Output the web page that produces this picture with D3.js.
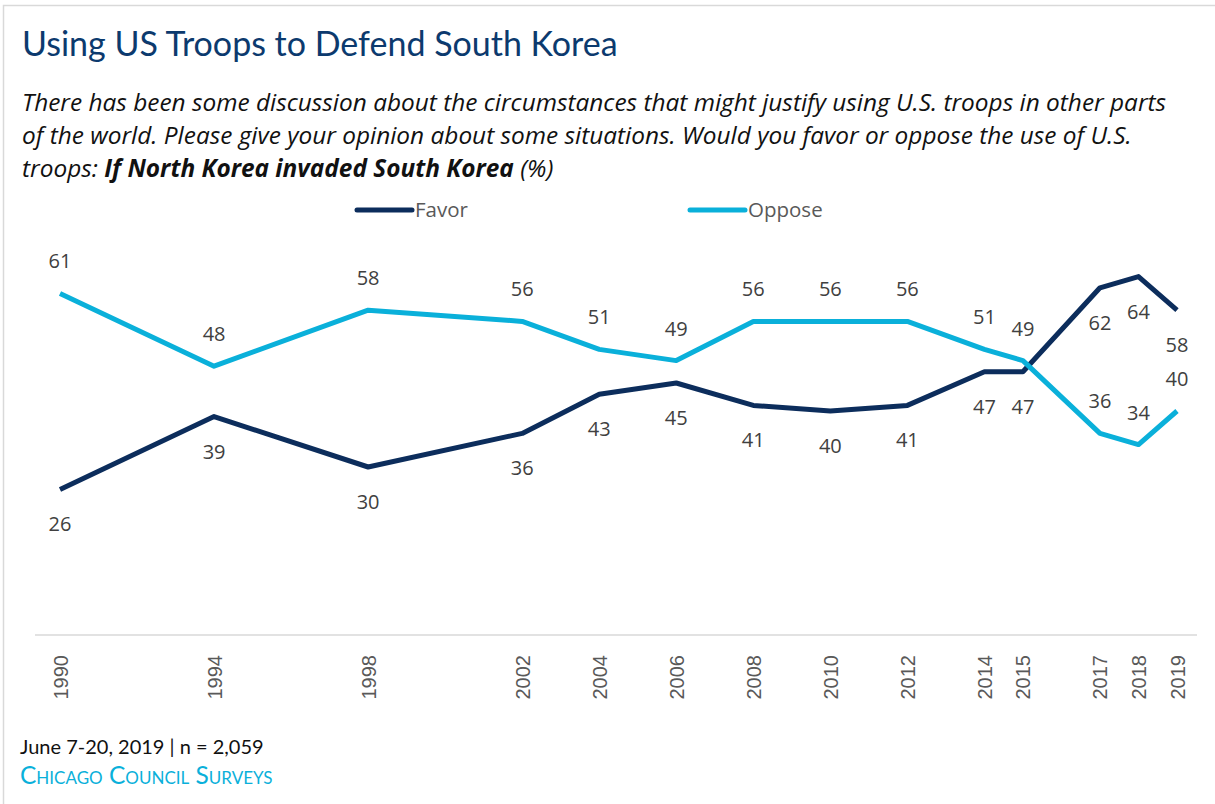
<!DOCTYPE html>
<html>
<head>
<meta charset="utf-8">
<script src="https://cdn.jsdelivr.net/npm/d3@7"></script>
<style>
  body { margin: 0; background: #fff; }
  svg { display: block; }
</style>
</head>
<body>
<svg id="chart" width="1215" height="804"></svg>
<script>
// -----
// DATA
// -----
const years = [1990, 1994, 1998, 2002, 2004, 2006, 2008, 2010, 2012, 2014, 2015, 2017, 2018, 2019];
const favor = [26, 39, 30, 36, 43, 45, 41, 40, 41, 47, 47, 62, 64, 58];
const oppose = [61, 48, 58, 56, 51, 49, 56, 56, 56, 51, 49, 36, 34, 40];

const seriesNames = ["Favor", "Oppose"];
const colors = { Favor: "#0c2d5c", Oppose: "#0ab0da" };

const svg = d3.select("#chart");

// frame
svg.append("path")
    .attr("d", "M3.5,804 V5.5 H1215")
    .attr("fill", "none")
    .attr("stroke", "#d9d9d9")
    .attr("stroke-width", 1.5);

// title + question
svg.append("text")
    .attr("x", 22).attr("y", 56)
    .attr("font-family", "Lato, sans-serif")
    .attr("font-size", 34)
    .attr("fill", "#0c3a6e")
    .text("Using US Troops to Defend South Korea");

const sub = svg.append("text")
    .attr("font-family", "'Open Sans', sans-serif")
    .attr("font-size", 24.4)
    .attr("font-style", "italic")
    .attr("fill", "#111");
sub.append("tspan").attr("x", 22).attr("y", 111)
    .text("There has been some discussion about the circumstances that might justify using U.S. troops in other parts");
sub.append("tspan").attr("x", 22).attr("y", 144)
    .text("of the world. Please give your opinion about some situations. Would you favor or oppose the use of U.S.");
sub.append("tspan").attr("x", 22).attr("y", 177).text("troops: ");
sub.append("tspan").attr("font-weight", "bold").text("If North Korea invaded South Korea");
sub.append("tspan").text(" (%)");

// -----
// SCALES
// -----
const x = d3.scaleLinear().domain([1990, 2019]).range([60, 1177]);
const y = d3.scaleLinear().domain([0, 70]).range([635, 243]);

// axis
svg.append("line")
    .attr("x1", 35).attr("x2", 1197)
    .attr("y1", y(0)).attr("y2", y(0))
    .attr("stroke", "#d9d9d9")
    .attr("stroke-width", 1.5);

const xAxis = svg.append("g")
    .attr("transform", `translate(0,${y(0)})`)
    .call(d3.axisBottom(x).tickValues(years).tickFormat(d3.format("d")).tickSize(0));
xAxis.select(".domain").remove();
xAxis.selectAll("text")
    .attr("font-family", "'Liberation Sans', Arial, sans-serif")
    .attr("font-size", 20)
    .attr("fill", "#595959")
    .attr("transform", "rotate(-90)")
    .attr("text-anchor", "end")
    .attr("dy", "0.35em")
    .attr("x", -20)
    .attr("y", 0);

// -----
// LINES
// -----
const line = d3.line()
    .x((d, i) => x(years[i]))
    .y(d => y(d));

const series = [
    { name: "Favor", values: favor, dy: 42 },
    { name: "Oppose", values: oppose, dy: -25 }
];

series.forEach(s => {
    svg.append("path")
        .datum(s.values)
        .attr("fill", "none")
        .attr("stroke", colors[s.name])
        .attr("stroke-width", 5)
        .attr("stroke-linejoin", "round")
        .attr("d", line);
});

// data labels
series.forEach(s => {
    svg.append("g")
        .selectAll("text")
        .data(s.values)
        .join("text")
        .attr("x", (d, i) => x(years[i]))
        .attr("y", d => y(d) + s.dy)
        .attr("text-anchor", "middle")
        .attr("font-family", "'Open Sans', sans-serif")
        .attr("font-size", 20)
        .attr("fill", "#404040")
        .text(d => d);
});

// -----
// LEGEND
// -----
const legendX = [357, 690];
seriesNames.forEach((name, i) => {
    const g = svg.append("g").attr("transform", `translate(${legendX[i]},210)`);
    g.append("line")
        .attr("x1", 0).attr("x2", 55)
        .attr("stroke", colors[name])
        .attr("stroke-width", 5)
        .attr("stroke-linecap", "round");
    g.append("text")
        .attr("x", 58).attr("y", 7)
        .attr("font-family", "'Open Sans', sans-serif")
        .attr("font-size", 20.5)
        .attr("fill", "#595959")
        .text(name);
});

// footer
svg.append("text")
    .attr("x", 20).attr("y", 754)
    .attr("font-family", "Lato, sans-serif")
    .attr("font-size", 20)
    .attr("fill", "#111")
    .text("June 7-20, 2019 | n = 2,059");
svg.append("text")
    .attr("x", 20).attr("y", 784)
    .attr("font-family", "Lato, sans-serif")
    .attr("font-size", 24.5)
    .attr("font-variant", "small-caps")
    .attr("fill", "#0ab0da")
    .text("Chicago Council Surveys");
</script>
</body>
</html>
